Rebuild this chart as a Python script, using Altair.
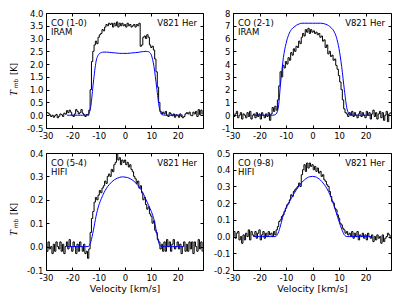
import altair as alt
import pandas as pd

# channel velocities (km/s) of the observed spectra, and of the model curves
velocity = [round(-30 + 0.5 * i, 1) for i in range(120)]
model_velocity = list(range(-22, 23))

co10_obs = [
    0.12, 0.10, 0.08, 0.02, -0.05, 0.00, -0.08, -0.02, 0.03, -0.10,
    -0.04, 0.05, 0.02, -0.05, 0.08, 0.04, 0.18, 0.10, 0.20, 0.12,
    0.00, -0.05, 0.05, 0.22, 0.15, 0.05, 0.10, 0.22, 0.08, 0.02,
    -0.05, 0.03, 0.00, 0.20, 1.00, 2.10, 2.50, 2.75, 2.90, 2.80,
    3.05, 3.15, 3.20, 3.35, 3.30, 3.45, 3.55, 3.50, 3.60, 3.55,
    3.60, 3.45, 3.60, 3.50, 3.65, 3.45, 3.60, 3.50, 3.60, 3.50,
    3.55, 3.45, 3.60, 3.50, 3.55, 3.45, 3.50, 3.55, 3.45, 3.55,
    3.50, 3.60, 2.70, 2.75, 3.05, 3.10, 3.00, 3.15, 3.05, 2.75,
    2.65, 2.70, 2.55, 2.20, 1.70, 1.10, 0.50, 0.15, 0.05, 0.12,
    0.05, 0.15, 0.00, -0.05, 0.10, 0.05, -0.02, 0.05, -0.08, 0.02,
    0.00, -0.08, 0.05, -0.05, -0.10, -0.05, 0.05, 0.10, 0.05, 0.12,
    0.00, -0.02, 0.12, 0.05, 0.15, -0.05, 0.22, 0.02, 0.20, 0.05,
]
co21_obs = [
    0.2, -0.1, 0.1, 0.3, -0.2, 0.0, 0.2, -0.3, 0.1, 0.0,
    -0.2, 0.2, -0.1, 0.3, -0.3, 0.0, 0.1, -0.2, 0.2, -0.1,
    0.1, -0.3, 0.2, 0.0, -0.2, 0.1, -0.1, 0.2, -0.4, 0.1,
    0.6, 0.3, 0.7, 0.4, 1.2, 2.3, 3.4, 3.0, 3.9, 3.7,
    4.2, 4.0, 4.5, 4.3, 4.9, 4.7, 5.2, 5.0, 5.4, 5.3,
    5.8, 5.6, 6.1, 6.4, 6.2, 6.7, 6.5, 6.8, 6.4, 6.7,
    6.5, 6.6, 6.4, 6.5, 6.3, 6.4, 6.1, 6.2, 5.8, 5.9,
    5.3, 5.5, 4.8, 5.0, 4.6, 4.7, 4.3, 4.4, 3.9, 3.6,
    3.1, 2.6, 2.0, 1.2, 0.5, 0.2, 0.1, -0.1, 0.2, 0.0,
    0.3, -0.1, 0.2, 0.0, -0.2, 0.1, 0.3, -0.1, 0.2, 0.0,
    -0.2, 0.3, 0.0, 0.2, -0.3, 0.1, 0.4, -0.1, 0.2, -0.3,
    0.1, 0.3, -0.2, 0.2, -0.4, 0.0, 0.3, -0.5, 0.1, 0.2,
]
co54_obs = [
    0.01, -0.02, 0.02, -0.01, 0.00, -0.03, 0.01, -0.02, 0.02, 0.00,
    -0.01, 0.02, -0.02, 0.01, -0.03, 0.00, 0.02, -0.01, 0.03, 0.00,
    -0.02, 0.02, 0.00, -0.03, 0.01, -0.02, 0.02, 0.00, -0.02, 0.01,
    -0.03, -0.02, -0.05, -0.01, 0.06, 0.12, 0.15, 0.19, 0.21, 0.20,
    0.22, 0.24, 0.23, 0.25, 0.26, 0.28, 0.27, 0.30, 0.31, 0.30,
    0.33, 0.32, 0.35, 0.36, 0.40, 0.37, 0.38, 0.35, 0.37, 0.36,
    0.37, 0.35, 0.36, 0.34, 0.35, 0.33, 0.32, 0.30, 0.29, 0.27,
    0.28, 0.25, 0.26, 0.23, 0.20, 0.21, 0.18, 0.16, 0.17, 0.14,
    0.13, 0.10, 0.11, 0.07, 0.06, 0.03, 0.02, -0.01, 0.01, -0.02,
    0.02, -0.02, 0.03, 0.00, 0.02, -0.02, 0.01, 0.03, -0.01, 0.00,
    0.02, -0.01, 0.01, -0.03, 0.00, 0.02, -0.02, 0.01, -0.02, 0.02,
    -0.01, 0.02, -0.03, 0.02, 0.00, -0.02, 0.03, -0.01, 0.02, -0.02,
]
co98_obs = [
    0.00, 0.03, -0.01, 0.02, 0.03, -0.02, 0.00, -0.04, 0.01, -0.02,
    0.02, 0.00, 0.04, -0.02, 0.03, 0.01, 0.00, 0.03, -0.01, 0.02,
    0.04, -0.02, 0.01, 0.03, -0.01, 0.02, 0.00, 0.03, 0.01, 0.02,
    0.00, 0.03, 0.01, 0.04, 0.06, 0.09, 0.10, 0.12, 0.13, 0.15,
    0.17, 0.19, 0.20, 0.22, 0.25, 0.24, 0.27, 0.28, 0.29, 0.30,
    0.32, 0.30, 0.37, 0.40, 0.43, 0.39, 0.44, 0.41, 0.44, 0.42,
    0.43, 0.40, 0.42, 0.39, 0.41, 0.38, 0.39, 0.36, 0.37, 0.34,
    0.33, 0.31, 0.30, 0.27, 0.24, 0.21, 0.20, 0.17, 0.16, 0.13,
    0.11, 0.08, 0.07, 0.05, 0.04, 0.02, 0.03, 0.01, 0.02, 0.00,
    0.03, -0.01, 0.02, 0.00, 0.03, -0.02, 0.01, 0.00, 0.02, -0.01,
    0.01, -0.02, 0.02, 0.00, -0.01, 0.01, -0.03, 0.00, -0.02, 0.01,
    -0.01, 0.00, -0.04, 0.01, -0.03, -0.01, 0.00, 0.02, 0.01, -0.01,
]

zeros8 = [0, 0, 0, 0, 0, 0, 0, 0]
co10_model = zeros8 + [
    0.03, 0.35, 1.3, 2.1, 2.38, 2.45, 2.47, 2.47, 2.46, 2.45, 2.44, 2.43, 2.42, 2.42,
    2.42, 2.42, 2.43, 2.44, 2.45, 2.46, 2.48, 2.49, 2.50, 2.48, 2.35, 1.9, 1.1, 0.3, 0.03,
] + zeros8
co21_model = zeros8 + [
    0.05, 0.5, 2.6, 4.5, 5.6, 6.3, 6.7, 6.9, 7.05, 7.15, 7.2, 7.2, 7.2, 7.2,
    7.2, 7.2, 7.2, 7.2, 7.18, 7.12, 7.02, 6.85, 6.6, 6.1, 5.2, 3.8, 2.0, 0.5, 0.05,
] + zeros8
co54_model = zeros8 + [
    0.0, 0.02, 0.07, 0.13, 0.175, 0.205, 0.23, 0.25, 0.265, 0.277, 0.286, 0.292, 0.296, 0.298,
    0.297, 0.295, 0.29, 0.283, 0.273, 0.26, 0.245, 0.225, 0.2, 0.175, 0.15, 0.115, 0.06, 0.01, 0.0,
] + zeros8
co98_model = zeros8 + [
    0.0, 0.02, 0.07, 0.13, 0.17, 0.2, 0.23, 0.257, 0.282, 0.305, 0.325, 0.34, 0.352, 0.358,
    0.36, 0.358, 0.35, 0.338, 0.32, 0.298, 0.27, 0.235, 0.19, 0.14, 0.09, 0.045, 0.01, 0.0, 0.0,
] + zeros8

for arr in (co10_obs, co21_obs, co54_obs, co98_obs):
    assert len(arr) == len(velocity), len(arr)
for arr in (co10_model, co21_model, co54_model, co98_model):
    assert len(arr) == len(model_velocity), len(arr)

lines = ["CO (1-0)", "CO (2-1)", "CO (5-4)", "CO (9-8)"]
telescopes = ["IRAM", "IRAM", "HIFI", "HIFI"]
star = "V821 Her"
x_ticks = [-30, -20, -10, 0, 10, 20]
y_limits = [[-0.5, 4.0], [-1, 8], [-0.1, 0.4], [-0.2, 0.5]]
y_ticks = [
    [-0.5, 0.0, 0.5, 1.0, 1.5, 2.0, 2.5, 3.0, 3.5, 4.0],
    [-1, 0, 1, 2, 3, 4, 5, 6, 7, 8],
    [-0.1, 0.0, 0.1, 0.2, 0.3, 0.4],
    [-0.2, -0.1, 0.0, 0.1, 0.2, 0.3, 0.4, 0.5],
]
y_formats = [".1f", "d", ".1f", ".1f"]

TK = 3
FONT = "DejaVu Sans"
LAB = 8.5
HYPHEN = "replace(datum.label, '\u2212', '-')"


def panel(obs, model, i, w, h, xtitle, ytitle):
    df_obs = pd.DataFrame({"v": velocity, "T": obs})
    df_mod = pd.DataFrame({"v": model_velocity, "T": model})
    xs = alt.Scale(domain=[-30, 29.6], nice=False, zero=False)
    ys = alt.Scale(domain=y_limits[i], nice=False, zero=False)
    common = dict(offset=-TK, tickSize=TK, domain=False, grid=False,
                  tickColor="black", tickWidth=1)
    xax = alt.Axis(values=x_ticks, orient="bottom", labelPadding=3, labelFont=FONT,
                   labelFontSize=LAB, labelColor="black", labelFlush=False,
                   labelOverlap=False, labelExpr=HYPHEN,
                   title="Velocity [km/s]" if xtitle else None,
                   titleFont=FONT, titleFontSize=9.5, titleFontWeight="normal",
                   titleColor="black", titlePadding=2, **common)
    yax = alt.Axis(values=y_ticks[i], orient="left", format=y_formats[i], labelPadding=3,
                   labelFont=FONT, labelFontSize=LAB, labelColor="black",
                   labelFlush=False, labelOverlap=False, labelExpr=HYPHEN,
                   title=None, **common)
    xax2 = alt.Axis(values=x_ticks, orient="top", labels=False, title=None, **common)
    yax2 = alt.Axis(values=y_ticks[i], orient="right", labels=False, title=None, **common)

    black = alt.Chart(df_obs).mark_line(
        interpolate="step", color="black", strokeWidth=1.0, clip=True
    ).encode(x=alt.X("v:Q", scale=xs, axis=xax), y=alt.Y("T:Q", scale=ys, axis=yax))
    blue = alt.Chart(df_mod).mark_line(
        interpolate="monotone", color="#0000ff", strokeWidth=1.0, clip=True
    ).encode(x=alt.X("v:Q", scale=xs, axis=xax2), y=alt.Y("T:Q", scale=ys, axis=yax2))

    one = pd.DataFrame({"a": [lines[i]], "b": [telescopes[i]], "c": [star]})
    t1 = alt.Chart(one).mark_text(align="left", baseline="alphabetic", font=FONT,
                                  fontSize=LAB, color="black").encode(
        x=alt.value(5), y=alt.value(13), text="a:N")
    t2 = alt.Chart(one).mark_text(align="left", baseline="alphabetic", font=FONT,
                                  fontSize=LAB, color="black").encode(
        x=alt.value(5), y=alt.value(21.5), text="b:N")
    t3 = alt.Chart(one).mark_text(align="right", baseline="alphabetic", font=FONT,
                                  fontSize=LAB, color="black").encode(
        x=alt.value(w - 6), y=alt.value(13), text="c:N")
    layers = [black, blue, t1, t2, t3]
    if ytitle:
        yt = pd.DataFrame({"T": ["T"], "mb": ["mb"], "K": ["[K]"]})
        ya = alt.Chart(yt).mark_text(angle=270, align="center", baseline="middle",
                                     font="Liberation Serif", fontStyle="italic",
                                     fontSize=10.5, color="black").encode(
            x=alt.value(-32.5), y=alt.value(80), text="T:N")
        yb = alt.Chart(yt).mark_text(angle=270, align="center", baseline="middle",
                                     font=FONT, fontSize=6, color="black").encode(
            x=alt.value(-30.5), y=alt.value(70.5), text="mb:N")
        yc = alt.Chart(yt).mark_text(angle=270, align="center", baseline="middle",
                                     font=FONT, fontSize=LAB, color="black").encode(
            x=alt.value(-32.5), y=alt.value(56), text="K:N")
        layers += [ya, yb, yc]
    return alt.layer(*layers).resolve_axis(x="independent", y="independent").properties(
        width=w, height=h)


p1 = panel(co10_obs, co10_model, 0, 157, 115, False, True)
p2 = panel(co21_obs, co21_model, 1, 158, 115, False, False)
p3 = panel(co54_obs, co54_model, 2, 157, 117, True, True)
p4 = panel(co98_obs, co98_model, 3, 158, 117, True, False)

chart = alt.concat(p1, p2, p3, p4, columns=2, spacing={"row": 25, "column": 30},
                   bounds="flush").properties(
    padding={"left": 0, "top": 0, "right": 0, "bottom": 0}
).configure(font=FONT).configure_view(stroke="black", strokeWidth=1)

chart.save("out.html", embed_options={"renderer": "svg", "actions": False})
